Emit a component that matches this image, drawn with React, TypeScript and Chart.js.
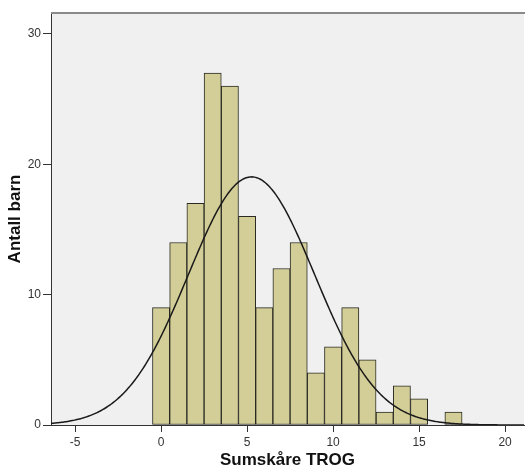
import React, { useEffect, useRef } from 'react';
import { Chart, registerables } from 'chart.js';

Chart.register(...registerables);

// Histogram data: score (bin centre) and number of children
const scoreBins = [0, 1, 2, 3, 4, 5, 6, 7, 8, 9, 10, 11, 12, 13, 14, 15, 16, 17];
const childCounts = [9, 14, 17, 27, 26, 16, 9, 12, 14, 4, 6, 9, 5, 1, 3, 2, 0, 1];
const xTickValues = [-5, 0, 5, 10, 15, 20];
const yTickValues = [0, 10, 20, 30];
const xRange = [-6.4, 21.1];
const yRange = [0, 31.6];
const binWidth = 1;

const xTitle = 'Sumskåre TROG';
const yTitle = 'Antall barn';

// Fitted normal curve derived from the histogram's own mean and SD
function normalCurve() {
  const n = childCounts.reduce((a, b) => a + b, 0);
  const mean = scoreBins.reduce((s, x, i) => s + x * childCounts[i], 0) / n;
  const ss = scoreBins.reduce((s, x, i) => s + childCounts[i] * (x - mean) * (x - mean), 0);
  const sd = Math.sqrt(ss / (n - 1));
  const pts: { x: number; y: number }[] = [];
  const steps = 400;
  for (let k = 0; k <= steps; k++) {
    const x = xRange[0] + ((xRange[1] - xRange[0]) * k) / steps;
    const z = (x - mean) / sd;
    const y = (n * binWidth * Math.exp(-0.5 * z * z)) / (sd * Math.sqrt(2 * Math.PI));
    pts.push({ x, y });
  }
  return pts;
}

const bgPlugin = {
  id: 'spssBg',
  beforeDraw(chart: any) {
    const { ctx, chartArea } = chart;
    ctx.save();
    ctx.fillStyle = '#f0f0f0';
    ctx.fillRect(chartArea.left, chartArea.top, chartArea.right - chartArea.left, chartArea.bottom - chartArea.top);
    ctx.restore();
  },
  afterDraw(chart: any) {
    const { ctx, chartArea } = chart;
    ctx.save();
    ctx.strokeStyle = '#8a8a8a';
    ctx.lineWidth = 2;
    ctx.beginPath();
    ctx.moveTo(chartArea.left, chartArea.top);
    ctx.lineTo(chartArea.right + 2, chartArea.top);
    ctx.stroke();
    ctx.restore();
  },
};

export default function App() {
  const canvasRef = useRef<HTMLCanvasElement | null>(null);

  useEffect(() => {
    if (!canvasRef.current) return;
    const barData = scoreBins
      .map((x, i) => ({ x, y: childCounts[i] }))
      .filter((d) => d.y > 0);

    const font = { family: '"Liberation Sans", Arial, sans-serif' };

    const chart = new Chart(canvasRef.current, {
      type: 'bar',
      data: {
        datasets: [
          {
            type: 'line',
            data: normalCurve(),
            borderColor: '#1a1a1a',
            borderWidth: 1.5,
            pointRadius: 0,
            tension: 0,
            fill: false,
            order: 0,
          } as any,
          {
            type: 'bar',
            data: barData,
            backgroundColor: '#d3ce97',
            borderColor: '#2a2a22',
            borderWidth: 1,
            borderSkipped: false,
            barPercentage: 1,
            categoryPercentage: 1,
            order: 1,
          } as any,
        ],
      },
      options: {
        animation: false,
        responsive: true,
        maintainAspectRatio: false,
        layout: { padding: { top: 13, right: 1, left: 0, bottom: 0 } },
        plugins: {
          legend: { display: false },
          tooltip: { enabled: false },
        },
        scales: {
          x: {
            type: 'linear',
            min: xRange[0],
            max: xRange[1],
            offset: false,
            afterBuildTicks: (scale: any) => {
              scale.ticks = xTickValues.map((v) => ({ value: v }));
            },
            afterFit: (scale: any) => {
              scale.height = 44;
            },
            grid: {
              drawOnChartArea: false,
              drawTicks: true,
              tickLength: 7,
              color: '#333333',
              offset: false,
            },
            border: { display: true, color: '#333333', width: 1 },
            ticks: {
              autoSkip: false,
              maxRotation: 0,
              padding: 3,
              color: '#333333',
              font: { ...font, size: 12 },
            },
            title: {
              display: true,
              text: xTitle,
              color: '#111111',
              font: { ...font, size: 17, weight: 'bold', lineHeight: 1 },
              padding: { top: 0, bottom: 0 },
            },
          },
          y: {
            type: 'linear',
            min: yRange[0],
            max: yRange[1],
            afterBuildTicks: (scale: any) => {
              scale.ticks = yTickValues.map((v) => ({ value: v }));
            },
            afterFit: (scale: any) => {
              scale.width = 51;
            },
            grid: {
              drawOnChartArea: false,
              drawTicks: true,
              tickLength: 8,
              color: '#333333',
            },
            border: { display: true, color: '#333333', width: 1 },
            ticks: {
              padding: 2,
              color: '#333333',
              font: { ...font, size: 12 },
            },
            title: {
              display: true,
              text: yTitle,
              color: '#111111',
              font: { ...font, size: 17, weight: 'bold', lineHeight: 1 },
              padding: { top: 7, bottom: 0 },
            },
          },
        },
      } as any,
      plugins: [bgPlugin],
    });
    return () => chart.destroy();
  }, []);

  return (
    <div style={{ position: 'absolute', left: 0, top: 0, width: 525, height: 469, background: '#ffffff' }}>
      <canvas ref={canvasRef} />
    </div>
  );
}
